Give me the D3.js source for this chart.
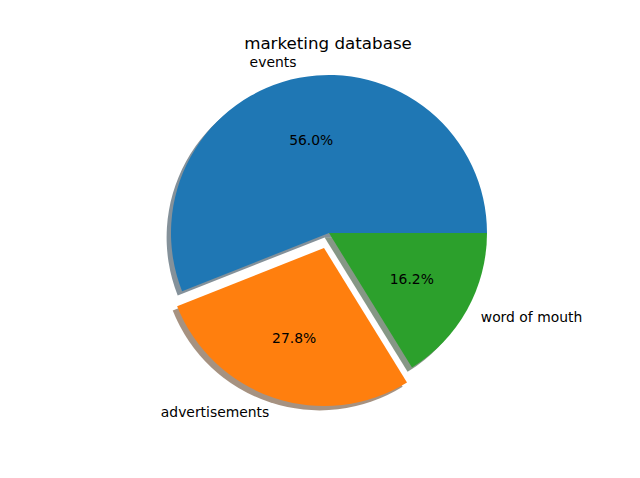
<!doctype html>
<html>
<head>
<meta charset="utf-8">
<script src="https://d3js.org/d3.v7.min.js"></script>
<style>
  body { margin: 0; background: #ffffff; }
  text { font-family: "DejaVu Sans", sans-serif; fill: #000; }
</style>
</head>
<body>
<script>
// chart data
var labels = ["events", "advertisements", "word of mouth"];
var sizes = [56.0, 27.8, 16.2];
var explode = [0, 0.1, 0];
var colors = ["#1f77b4", "#ff7f0e", "#2ca02c"];

var w = 640, h = 478;
var cx = 329, cy = 233;

// data units (radius = 1) -> pixels
var r = d3.scaleLinear().domain([0, 1]).range([0, 158]);

var svg = d3.select("body").append("svg")
  .attr("width", w).attr("height", h);

svg.append("text")
  .attr("x", 328).attr("y", 49)
  .attr("text-anchor", "middle")
  .style("font-size", "16.7px")
  .text("marketing database");

// matplotlib style: start at 0 deg, counterclockwise
var total = d3.sum(sizes);
var slices = [];
var acc = 0;
sizes.forEach(function(v, i) {
  var t1 = acc / total * 2 * Math.PI;
  acc += v;
  var t2 = acc / total * 2 * Math.PI;
  var mid = (t1 + t2) / 2;
  var ox = cx + r(explode[i]) * Math.cos(mid);
  var oy = cy - r(explode[i]) * Math.sin(mid);
  slices.push({i: i, t1: t1, t2: t2, mid: mid, ox: ox, oy: oy, v: v});
});

var arc = d3.arc()
  .innerRadius(0)
  .outerRadius(r(1))
  .startAngle(function(d) { return Math.PI / 2 - d.t1; })
  .endAngle(function(d) { return Math.PI / 2 - d.t2; });

var shadowOff = r(0.02 * 100 / 72);

function shade(c) {
  var rgb = d3.rgb(c);
  return d3.rgb(rgb.r * 0.3, rgb.g * 0.3, rgb.b * 0.3);
}

// shadows below every wedge
svg.append("g").selectAll("path")
  .data(slices).enter().append("path")
  .attr("d", arc)
  .attr("transform", function(d) {
    return "translate(" + (d.ox - shadowOff) + "," + (d.oy + shadowOff) + ")";
  })
  .style("fill", function(d) { return shade(colors[d.i]); })
  .style("opacity", 0.5);

svg.append("g").selectAll("path")
  .data(slices).enter().append("path")
  .attr("d", arc)
  .attr("transform", function(d) { return "translate(" + d.ox + "," + d.oy + ")"; })
  .style("fill", function(d) { return colors[d.i]; });

// outer labels
svg.append("g").selectAll("text")
  .data(slices).enter().append("text")
  .attr("x", function(d) { return d.ox + r(1.1) * Math.cos(d.mid); })
  .attr("y", function(d) { return d.oy - r(1.1) * Math.sin(d.mid); })
  .attr("dy", "0.32em")
  .attr("text-anchor", function(d) { return Math.cos(d.mid) < 0 ? "end" : "start"; })
  .style("font-size", "13.9px")
  .text(function(d) { return labels[d.i]; });

// percentage labels
svg.append("g").selectAll("text")
  .data(slices).enter().append("text")
  .attr("x", function(d) { return d.ox + r(0.6) * Math.cos(d.mid); })
  .attr("y", function(d) { return d.oy - r(0.6) * Math.sin(d.mid); })
  .attr("dy", "0.35em")
  .attr("text-anchor", "middle")
  .style("font-size", "13.9px")
  .text(function(d) { return d3.format(".1f")(d.v / total * 100) + "%"; });
</script>
</body>
</html>
